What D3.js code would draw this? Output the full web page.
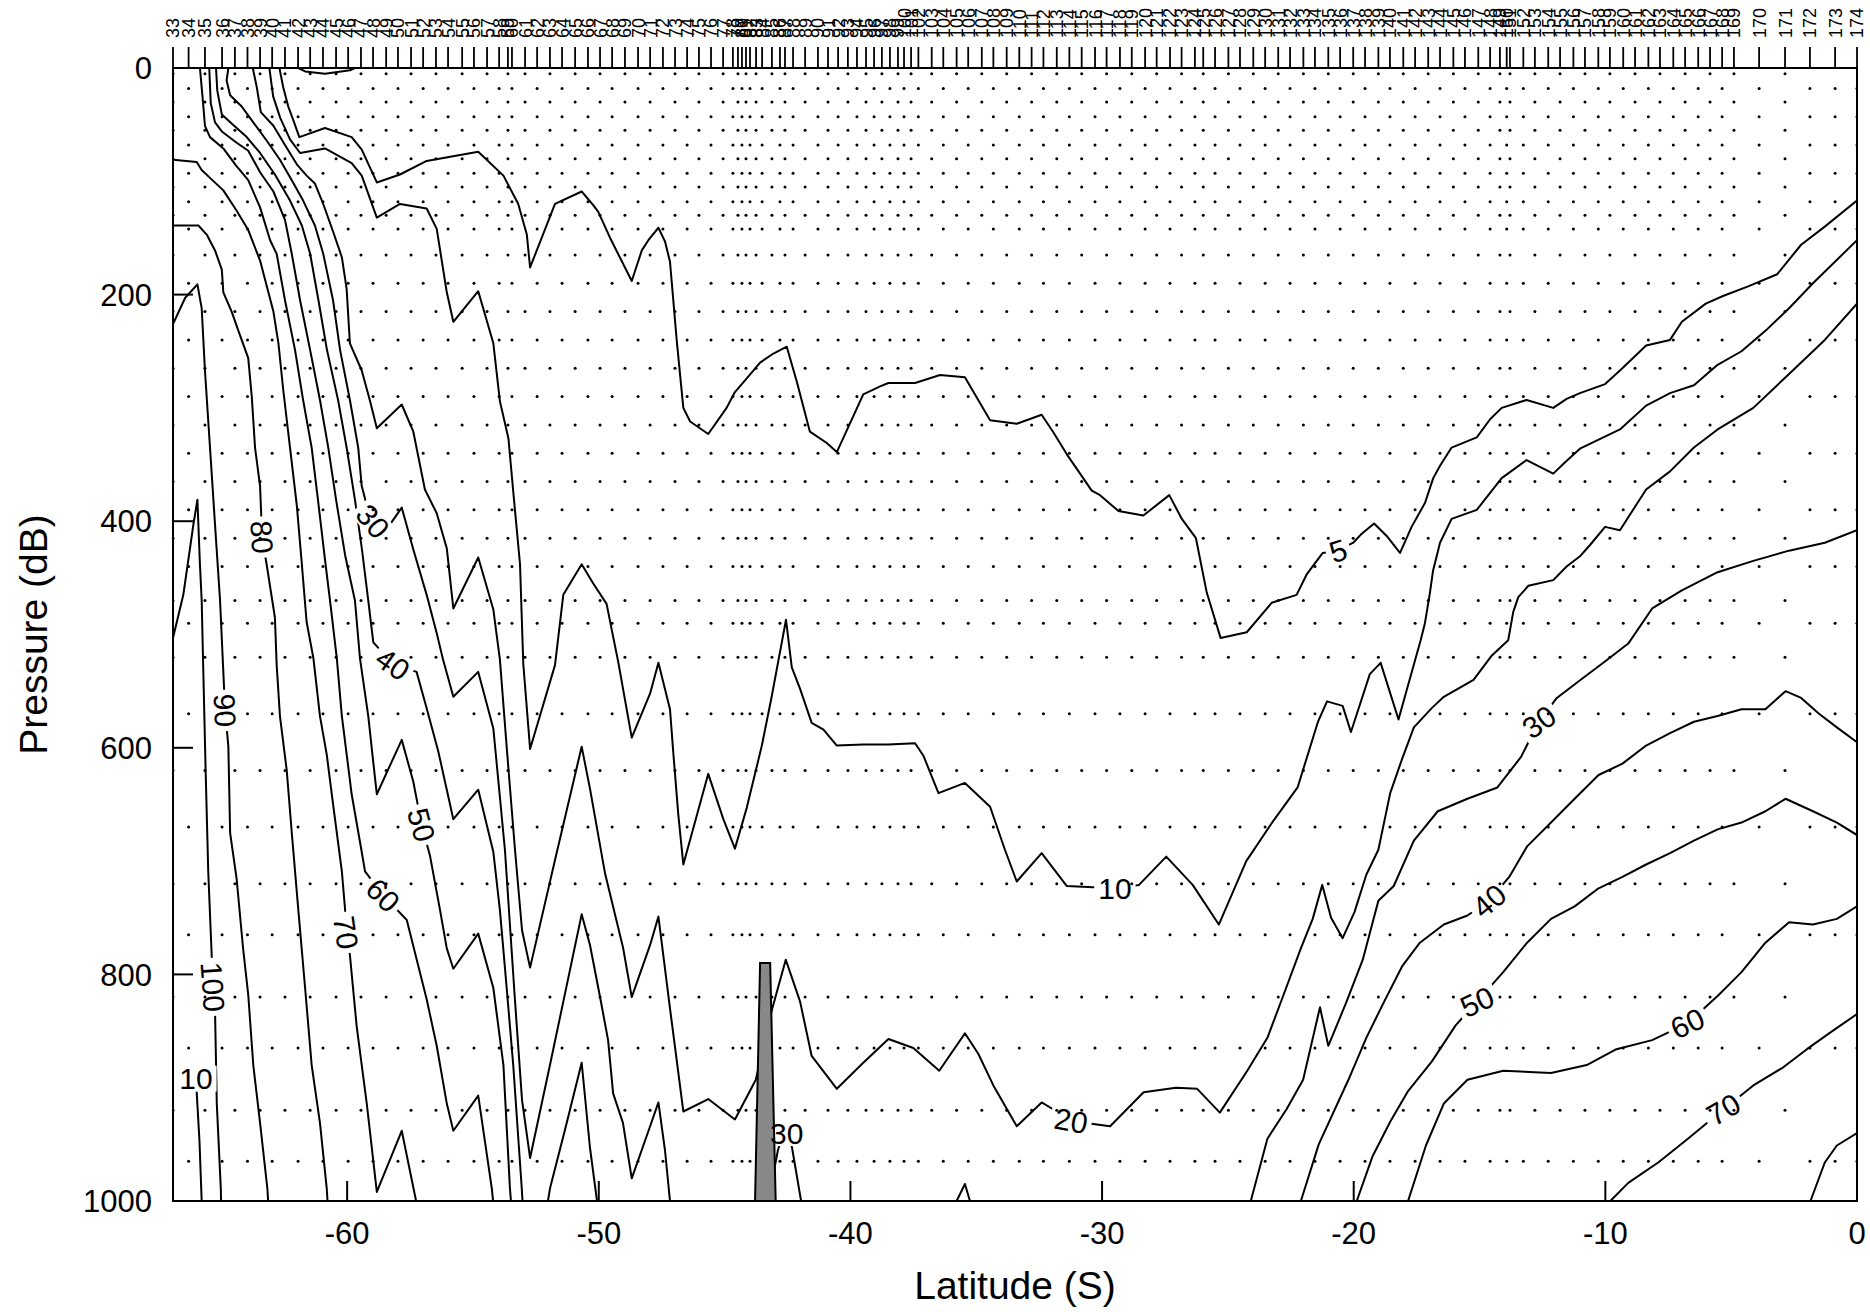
<!DOCTYPE html>
<html><head><meta charset="utf-8">
<script src="https://cdn.jsdelivr.net/npm/d3@7"></script>
<style>body{margin:0;background:#fff}svg text{font-family:"Liberation Sans",Arial,Helvetica,sans-serif}</style>
</head><body><svg id="c" width="1870" height="1312"></svg>
<script>
// ---------------- DATA ----------------
const stationIds = [33,34,35,36,37,38,39,40,41,42,43,44,45,46,47,48,49,50,51,52,53,54,55,56,57,58,59,60,61,62,63,64,65,66,67,68,69,70,71,72,73,74,75,76,77,78,79,80,81,82,83,84,85,86,87,88,89,90,91,92,93,94,95,96,97,98,99,100,101,102,103,104,105,106,107,108,109,110,111,112,113,114,115,116,117,118,119,120,121,122,123,124,125,126,127,128,129,130,131,132,133,134,135,136,137,138,139,140,141,142,143,144,145,146,147,148,149,150,151,152,153,154,155,156,157,158,159,160,161,162,163,164,165,166,167,168,169,170,171,172,173,174];
const stationLat = [-66.92,-66.30,-65.65,-64.97,-64.46,-63.96,-63.46,-62.98,-62.47,-61.95,-61.47,-60.96,-60.44,-59.96,-59.45,-58.97,-58.45,-57.98,-57.46,-56.98,-56.47,-55.99,-55.43,-54.96,-54.44,-53.96,-53.61,-53.45,-52.93,-52.45,-51.94,-51.46,-50.94,-50.43,-49.95,-49.47,-48.96,-48.44,-47.96,-47.45,-46.97,-46.49,-46.02,-45.54,-45.06,-44.67,-44.47,-44.31,-44.15,-43.99,-43.75,-43.51,-43.12,-42.80,-42.60,-42.28,-41.80,-41.29,-40.89,-40.49,-40.10,-39.74,-39.38,-39.06,-38.75,-38.43,-38.11,-37.87,-37.59,-37.30,-36.77,-36.31,-35.78,-35.32,-34.78,-34.32,-33.79,-33.29,-32.80,-32.33,-31.80,-31.30,-30.81,-30.28,-29.82,-29.29,-28.82,-28.29,-27.83,-27.30,-26.84,-26.31,-25.98,-25.51,-24.98,-24.52,-23.99,-23.52,-23.00,-22.53,-22.00,-21.54,-21.01,-20.54,-20.02,-19.55,-19.02,-18.56,-18.03,-17.56,-17.04,-16.57,-16.04,-15.58,-15.05,-14.58,-14.19,-13.92,-13.79,-13.26,-12.80,-12.27,-11.80,-11.27,-10.81,-10.28,-9.82,-9.29,-8.82,-8.29,-7.83,-7.30,-6.83,-6.31,-5.84,-5.36,-4.89,-3.89,-2.86,-1.87,-0.87,0.00];
const castType = "ABABABABABABABABABABABABABABABABABABABABABABABABABABABABABABABABABABABABABABABABABABABABABABABABABABABABABABABABABABABABABABABABABABABABABAB";
const castA = [5,30,55,80,105,130,165,215,265,315,365,415,470,520,620,720,820,920];
const castB = [18,43,68,93,118,142,190,240,290,340,390,440,490,570,670,765,865,965];

const xTicks = [-60,-50,-40,-30,-20,-10,0];
const yTicks = [0,200,400,600,800,1000];

// contour lines: [latitude, pressure]
const c5 = [[-62.69,0],[-62.54,17],[-62.34,34],[-62.14,46],[-61.90,61],[-60.88,53],[-59.82,61],[-59.42,72],[-58.82,101],[-57.90,94],[-56.84,82],[-54.79,74],[-53.79,95],[-53.20,120],[-52.86,147],[-52.73,176],[-51.74,120],[-50.68,109],[-50.22,121],[-50.02,127],[-49.55,150],[-48.69,188],[-48.29,161],[-48.03,152],[-47.63,141],[-47.37,153],[-47.17,171],[-46.90,241],[-46.64,300],[-46.37,312],[-45.65,323],[-44.92,300],[-44.59,286],[-44.12,274],[-43.59,260],[-43.06,252],[-42.53,246],[-42.13,277],[-41.61,321],[-40.94,331],[-40.54,339],[-39.49,288],[-38.82,281],[-38.49,278],[-37.43,278],[-36.44,271],[-35.45,273],[-34.45,311],[-33.39,314],[-32.40,306],[-31.95,321],[-31.40,341],[-30.41,373],[-30.08,377],[-29.35,391],[-28.36,395],[-27.33,377],[-26.83,398],[-26.27,415],[-25.84,463],[-25.29,503],[-24.25,498],[-23.26,472],[-22.27,465],[-21.87,447],[-21.23,428],[-20.62,426],[-20.02,419],[-19.68,411],[-19.19,402],[-18.69,413],[-18.16,428],[-17.70,405],[-17.17,384],[-16.84,362],[-16.57,351],[-16.11,335],[-15.11,326],[-14.58,310],[-14.12,300],[-13.13,293],[-12.07,300],[-11.54,292],[-11.01,287],[-10.01,279],[-9.42,267],[-8.38,245],[-7.43,240],[-6.96,224],[-6.01,208],[-5.30,201],[-4.35,193],[-3.17,182],[-2.22,156],[-1.28,140],[0,117]];
const c5dip = [[-61.94,0],[-61.67,3],[-60.88,5],[-59.89,2],[-59.69,0]];
const c10 = [[-63.09,0],[-62.94,25],[-62.66,44],[-62.27,63],[-61.87,75],[-60.88,71],[-59.82,84],[-59.42,95],[-58.82,132],[-57.90,120],[-56.84,124],[-56.44,142],[-56.04,198],[-55.78,224],[-54.79,197],[-54.19,243],[-53.93,294],[-53.59,327],[-53.39,376],[-53.13,438],[-53.00,526],[-52.73,601],[-51.74,527],[-51.41,465],[-50.68,438],[-50.22,455],[-49.69,473],[-49.42,503],[-49.22,525],[-48.69,591],[-47.96,552],[-47.63,525],[-47.17,566],[-47.04,604],[-46.84,659],[-46.64,703],[-45.65,623],[-45.05,663],[-44.59,689],[-44.12,653],[-43.52,598],[-43.13,555],[-42.56,487],[-42.33,529],[-42.00,548],[-41.54,578],[-41.07,584],[-40.54,598],[-39.49,597],[-38.49,597],[-37.43,596],[-37.10,607],[-36.50,640],[-35.45,631],[-34.45,652],[-33.86,690],[-33.39,718],[-32.40,693],[-31.40,722],[-30.35,723],[-29.49,724],[-28.53,721],[-27.45,696],[-26.40,721],[-25.36,756],[-24.27,700],[-23.18,664],[-22.23,635],[-21.42,577],[-21.06,559],[-20.44,563],[-20.11,586],[-19.36,535],[-18.93,525],[-18.22,575],[-17.34,505],[-17.17,490],[-16.97,463],[-16.85,444],[-16.57,419],[-16.11,398],[-15.11,390],[-14.65,377],[-14.12,362],[-13.13,346],[-12.07,358],[-11.60,348],[-11.01,336],[-10.08,326],[-9.42,319],[-8.38,298],[-7.43,287],[-6.48,280],[-5.54,262],[-4.59,250],[-3.64,232],[-2.70,212],[-1.75,190],[0,152]];
const c20 = [[-63.75,0],[-63.59,17],[-63.43,39],[-62.93,51],[-62.47,68],[-62.00,85],[-61.61,95],[-61.28,102],[-60.95,120],[-60.55,145],[-60.21,167],[-60.02,195],[-59.89,243],[-59.42,267],[-59.09,294],[-58.82,318],[-57.83,297],[-57.37,321],[-56.91,372],[-56.44,393],[-56.04,424],[-55.78,477],[-54.79,432],[-54.19,478],[-53.93,522],[-53.65,602],[-53.33,690],[-53.05,761],[-52.73,794],[-51.74,699],[-50.68,599],[-50.35,636],[-49.75,711],[-49.03,777],[-48.69,820],[-47.96,774],[-47.63,749],[-47.17,830],[-46.64,921],[-45.65,910],[-44.59,928],[-43.76,893],[-43.13,832],[-42.57,787],[-42.00,824],[-41.54,872],[-40.54,901],[-39.49,878],[-38.49,857],[-37.50,865],[-36.47,885],[-35.45,852],[-34.92,870],[-34.32,898],[-33.39,934],[-32.40,913],[-31.80,921],[-31.23,929],[-30.35,932],[-29.68,934],[-28.35,904],[-27.07,900],[-26.22,901],[-25.32,922],[-24.23,885],[-23.43,856],[-22.72,814],[-22.10,777],[-21.63,751],[-21.25,721],[-20.90,750],[-20.44,768],[-19.97,745],[-19.50,712],[-19.02,690],[-18.55,640],[-18.08,610],[-17.61,582],[-16.90,565],[-16.42,555],[-15.24,540],[-14.53,519],[-13.86,505],[-13.66,480],[-13.46,467],[-13.06,457],[-12.07,452],[-11.54,440],[-11.01,431],[-10.61,421],[-10.01,405],[-9.42,408],[-8.38,372],[-7.43,356],[-6.48,335],[-5.54,319],[-4.12,300],[-2.70,270],[-1.28,240],[0,208]];
const c30 = [[-64.72,0],[-64.79,11],[-64.65,24],[-64.19,34],[-63.73,48],[-63.20,64],[-62.67,81],[-62.20,99],[-61.75,117],[-61.28,139],[-60.95,164],[-60.56,205],[-60.28,249],[-59.89,293],[-59.56,335],[-59.42,369],[-59.22,386],[-58.97,400],[-58.30,403],[-57.83,388],[-57.37,425],[-56.84,465],[-56.44,499],[-56.19,522],[-55.78,555],[-54.79,533],[-54.19,583],[-53.73,690],[-53.33,823],[-53.05,911],[-52.73,962],[-51.94,880],[-50.68,747],[-50.35,774],[-49.95,820],[-49.63,858],[-49.43,905],[-49.04,931],[-48.69,980],[-47.96,934],[-47.63,913],[-47.37,955],[-47.17,1000]];
const c30b = [[-43.27,1000],[-42.88,955],[-42.56,933],[-42.32,953],[-41.96,1000]];
const c30c = [[-35.78,1000],[-35.45,985],[-35.25,1000]];
const c30r = [[-24.09,1000],[-23.43,945],[-22.67,919],[-22.01,893],[-21.34,829],[-21.01,863],[-20.30,825],[-19.64,787],[-19.02,735],[-18.41,722],[-17.61,682],[-16.66,656],[-15.48,645],[-14.29,635],[-13.35,608],[-12.64,577],[-11.93,556],[-10.98,540],[-10.03,524],[-9.09,508],[-8.14,477],[-6.96,461],[-5.54,445],[-4.12,435],[-2.70,426],[-1.28,419],[0,408]];
const c40 = [[-65.21,0],[-65.16,20],[-64.98,41],[-64.59,49],[-63.99,61],[-63.46,75],[-62.87,94],[-62.27,117],[-61.80,139],[-61.47,164],[-61.14,205],[-60.80,249],[-60.36,293],[-60.02,335],[-59.69,381],[-59.41,425],[-59.16,470],[-58.96,507],[-58.18,526],[-57.24,533],[-56.84,565],[-56.38,603],[-55.78,663],[-54.79,637],[-54.19,692],[-53.93,743],[-53.66,812],[-53.40,880],[-53.06,989],[-53.03,1000]];
const c40b = [[-52.02,1000],[-51.94,989],[-51.34,937],[-50.68,878],[-50.35,953],[-50.07,1000]];
const c40r = [[-22.10,1000],[-21.39,950],[-20.21,893],[-19.50,856],[-18.79,824],[-18.08,793],[-17.37,772],[-16.42,756],[-15.48,748],[-14.62,735],[-13.82,714],[-13.11,687],[-12.16,666],[-11.22,645],[-10.27,624],[-9.32,614],[-8.38,598],[-7.43,587],[-6.48,577],[-5.54,572],[-4.59,566],[-3.64,566],[-2.84,550],[-2.22,556],[-1.51,570],[-0.80,582],[0,595]];
const c50 = [[-65.48,0],[-65.42,31],[-65.25,48],[-64.98,56],[-64.39,66],[-63.93,73],[-63.46,92],[-62.93,109],[-62.47,134],[-62.20,164],[-61.87,205],[-61.47,249],[-61.08,293],[-60.75,335],[-60.44,381],[-60.08,430],[-59.69,470],[-59.49,521],[-59.16,572],[-58.96,613],[-58.82,641],[-57.83,593],[-57.37,630],[-57.04,668],[-56.71,695],[-56.31,743],[-56.04,777],[-55.78,795],[-54.79,764],[-54.19,812],[-53.79,880],[-53.53,989],[-53.49,1000]];
const c50r = [[-19.88,1000],[-19.26,961],[-18.55,930],[-17.84,903],[-16.90,877],[-15.95,845],[-15.10,824],[-14.06,798],[-13.11,772],[-12.16,751],[-11.22,740],[-10.27,724],[-9.32,714],[-8.38,703],[-7.43,693],[-6.48,682],[-5.54,672],[-4.59,666],[-3.64,656],[-2.84,645],[-1.75,656],[-0.80,666],[0,677]];
const c60 = [[-65.85,0],[-65.74,27],[-65.65,51],[-65.45,61],[-64.92,71],[-64.42,86],[-63.93,99],[-63.46,123],[-63.06,152],[-62.80,164],[-62.47,205],[-62.07,249],[-61.75,293],[-61.41,335],[-61.16,381],[-60.88,434],[-60.68,470],[-60.41,521],[-60.21,572],[-59.82,641],[-59.42,692],[-59.29,709],[-58.57,730],[-57.63,752],[-56.84,822],[-56.44,863],[-56.04,914],[-55.78,938],[-54.79,907],[-54.25,989],[-54.20,1000]];
const c60r = [[-17.84,1000],[-17.13,951],[-16.42,914],[-15.48,893],[-14.06,885],[-12.16,887],[-10.74,880],[-9.56,866],[-8.14,858],[-6.72,843],[-5.54,819],[-4.59,798],[-3.64,772],[-2.70,754],[-1.75,756],[-0.80,751],[0,740]];
const c70 = [[-66.92,81],[-65.98,83],[-65.78,90],[-65.45,97],[-64.92,108],[-64.39,126],[-63.93,143],[-63.46,170],[-62.93,215],[-62.73,243],[-62.54,284],[-62.27,335],[-62.00,386],[-61.80,438],[-61.61,489],[-61.34,521],[-61.08,572],[-60.81,606],[-60.61,641],[-60.41,675],[-60.21,709],[-60.08,743],[-60.04,763],[-59.89,783],[-59.62,846],[-59.22,914],[-58.82,992],[-57.83,938],[-57.26,1000]];
const c70r = [[-9.80,1000],[-9.09,984],[-7.90,966],[-6.72,945],[-5.30,919],[-4.12,898],[-2.93,882],[-1.99,866],[-1.04,851],[0,835]];
const c80 = [[-66.92,139],[-65.91,139],[-65.58,147],[-65.25,161],[-64.98,178],[-64.92,198],[-64.59,215],[-64.32,232],[-63.93,256],[-63.79,290],[-63.66,335],[-63.46,369],[-63.38,414],[-63.20,438],[-62.87,485],[-62.80,527],[-62.67,572],[-62.40,620],[-62.20,675],[-61.94,743],[-61.67,812],[-61.41,880],[-61.08,931],[-60.81,989],[-60.78,1000]];
const c80r = [[-1.85,1000],[-1.28,966],[-0.80,951],[0,940]];
const c90 = [[-66.92,226],[-66.44,203],[-65.95,191],[-65.78,212],[-65.65,267],[-65.45,335],[-65.25,403],[-65.05,470],[-64.98,504],[-64.85,567],[-64.72,599],[-64.65,675],[-64.39,716],[-64.13,778],[-63.93,818],[-63.73,880],[-63.46,931],[-63.17,989],[-63.14,1000]];
const c100 = [[-66.92,503],[-66.51,465],[-66.11,403],[-65.95,381],[-65.85,438],[-65.78,470],[-65.71,538],[-65.62,623],[-65.52,709],[-65.42,763],[-65.33,811],[-65.25,832],[-65.18,914],[-65.02,989],[-65.01,1000]];
const c110 = [[-66.01,892],[-65.95,915],[-65.87,946],[-65.78,1000]];

const contourLines = [c5,c5dip,c10,c20,c30,c30b,c30c,c30r,c40,c40b,c40r,c50,c50r,c60,c60r,c70,c70r,c80,c80r,c90,c100,c110];

const labelText  = ["5","10","20","30","30","40","50","60","70","80","90","100","10","30","40","50","60","70"];
const labelLat   = [-20.62,-29.49,-31.23,-42.53,-58.97,-58.18,-57.04,-58.57,-60.04,-63.38,-64.85,-65.33,-66.01,-12.64,-14.62,-15.10,-6.74,-5.31];
const labelP     = [426,724,929,940,400,526,668,730,763,414,567,811,892,577,735,824,843,919];
const labelAngle = [-18,0,10,0,50,35,75,45,82,86,87,86,0,-35,-40,-25,-25,-30];

const bathyLat = [-43.79,-43.59,-43.19,-42.97];
const bathyP   = [1000,790,790,1000];

// ---------------- DRAW ----------------
const L=173,R=1857,T=68,B=1201;
const svg = d3.select("#c");
const x = d3.scaleLinear().domain([stationLat[0], stationLat[stationLat.length-1]]).range([L,R]);
const y = d3.scaleLinear().domain([0,1000]).range([T,B]);
const defs = svg.append("defs");
defs.append("clipPath").attr("id","plot").append("rect").attr("x",L).attr("y",T).attr("width",R-L).attr("height",B-T);
const mask = defs.append("mask").attr("id","lblmask").attr("maskUnits","userSpaceOnUse")
  .attr("x",0).attr("y",0).attr("width",1870).attr("height",1312);
mask.append("rect").attr("x",0).attr("y",0).attr("width",1870).attr("height",1312).attr("fill","#fff");

// dots (sample positions)
const gDots = svg.append("g").attr("clip-path","url(#plot)");
stationLat.forEach((lat,i)=>{
  const cast = castType[i]==="A" ? castA : castB;
  cast.forEach(p=>{
    gDots.append("circle").attr("cx",x(lat)).attr("cy",y(p)).attr("r",1.5).attr("fill","#000");
  });
});

// contours
const line = d3.line().x(d=>x(d[0])).y(d=>y(d[1]));
const gC = svg.append("g").attr("clip-path","url(#plot)").append("g").attr("mask","url(#lblmask)");
contourLines.forEach(c=>{
  gC.append("path").attr("d",line(c)).attr("fill","none").attr("stroke","#000").attr("stroke-width",2).attr("stroke-linejoin","round");
});

// bathymetry
const bathy = bathyLat.map((d,i)=>[d,bathyP[i]]);
svg.append("g").attr("clip-path","url(#plot)").append("path")
  .attr("d", line(bathy)+"Z").attr("fill","#888888").attr("stroke","#000").attr("stroke-width",2);

// contour labels
const gL = svg.append("g");
labelText.forEach((t,i)=>{
  const px=x(labelLat[i]), py=y(labelP[i]);
  const tx = gL.append("text").attr("transform",`translate(${px},${py}) rotate(${labelAngle[i]})`)
    .attr("text-anchor","middle").attr("dy","0.36em").attr("font-size",30).text(t);
  const w = tx.node().getComputedTextLength();
  mask.append("rect").attr("x",-w/2-4).attr("y",-13).attr("width",w+8).attr("height",26)
    .attr("transform",`translate(${px},${py}) rotate(${labelAngle[i]})`).attr("fill","#000");
});

// axes box, ticks, labels
svg.append("rect").attr("x",L).attr("y",T).attr("width",R-L).attr("height",B-T).attr("fill","none").attr("stroke","#000").attr("stroke-width",2);
xTicks.forEach(t=>{
  svg.append("line").attr("x1",x(t)).attr("x2",x(t)).attr("y1",B).attr("y2",B-20).attr("stroke","#000").attr("stroke-width",2);
  svg.append("text").attr("x",x(t)).attr("y",1244).attr("text-anchor","middle").attr("font-size",31).text(t);
});
yTicks.forEach(t=>{
  svg.append("line").attr("x1",L).attr("x2",L+20).attr("y1",y(t)).attr("y2",y(t)).attr("stroke","#000").attr("stroke-width",2);
  svg.append("text").attr("x",152).attr("y",y(t)).attr("dy","0.36em").attr("text-anchor","end").attr("font-size",31).text(t);
});
stationLat.forEach((lat,i)=>{
  svg.append("line").attr("x1",x(lat)).attr("x2",x(lat)).attr("y1",T).attr("y2",T-21).attr("stroke","#000").attr("stroke-width",1.8);
  svg.append("text").attr("transform",`translate(${x(lat)},38) rotate(-90)`).attr("dy","0.36em")
    .attr("text-anchor","start").attr("font-size",18).text(stationIds[i]);
});
svg.append("text").attr("x",(L+R)/2).attr("y",1299).attr("text-anchor","middle").attr("font-size",39).text("Latitude (S)");
svg.append("text").attr("transform",`translate(47,${(T+B)/2}) rotate(-90)`).attr("text-anchor","middle").attr("font-size",39).text("Pressure (dB)");
</script></body></html>
